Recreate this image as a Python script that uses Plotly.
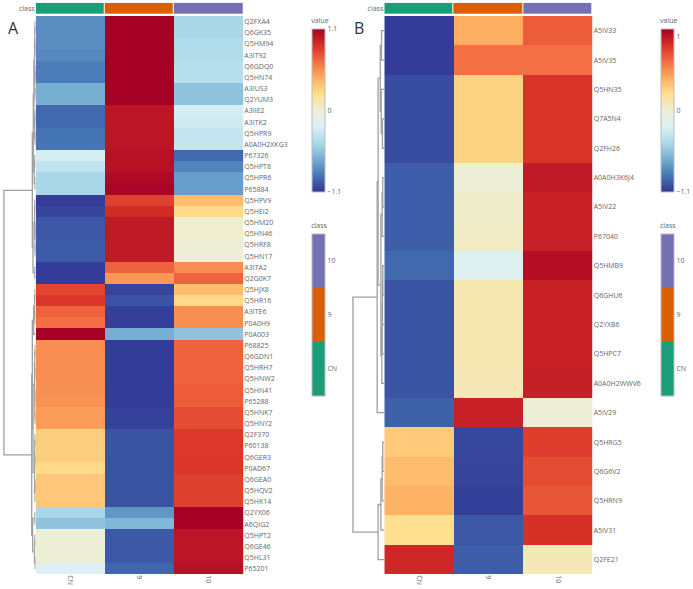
import plotly.graph_objects as go

# ---------------- data ----------------
classes = ["CN", "9", "10"]
class_colors = ["#1b9e77", "#d95f02", "#7570b3"]

A_labels = ["Q2FXA4", "Q6GK35", "Q5HM94", "A3IT92", "Q6GDQ0", "Q5HN74", "A3IUS3", "Q2YUM3",
            "A3IIE2", "A3ITK2", "Q5HPR9", "A0A0H2XKG3", "P67326", "Q5HPT8", "Q5HPR6", "P65884",
            "Q5HPV9", "Q5HEI2", "Q5HM20", "Q5HN46", "Q5HRF8", "Q5HN17", "A3ITA2", "Q2G0K7",
            "Q5HJX8", "Q5HR16", "A3ITE6", "P0A0H9", "P0A003", "P68825", "Q6GDN1", "Q5HRH7",
            "Q5HNW2", "Q5HN41", "P65288", "Q5HNK7", "Q5HNY2", "Q2F370", "P60138", "Q6GER3",
            "P0AD67", "Q6GEA0", "Q5HQV2", "Q5HK14", "Q2YX06", "A6QIG2", "Q5HPT2", "Q6GE46",
            "Q5HL31", "P65201"]
A_CN = [-0.78, -0.78, -0.78, -0.80, -0.85, -0.85, -0.65, -0.65,
        -0.92, -0.92, -0.88, -0.88, -0.25, -0.35, -0.45, -0.45,
        -1.08, -1.05, -0.98, -0.98, -0.97, -0.97, -1.08, -1.08,
        0.80, 0.86, 0.70, 0.66, 1.10, 0.55, 0.55, 0.55,
        0.55, 0.54, 0.53, 0.50, 0.50, 0.30, 0.30, 0.30,
        0.25, 0.33, 0.33, 0.33, -0.45, -0.55, 0.00, 0.00,
        0.00, -0.22]
A_9 = [1.10, 1.10, 1.10, 1.10, 1.10, 1.10, 1.10, 1.10,
       1.00, 1.00, 1.00, 1.00, 1.02, 1.02, 1.05, 1.08,
       0.82, 0.90, 0.98, 0.98, 0.98, 0.98, 0.70, 0.52,
       -1.05, -1.00, -1.07, -1.07, -0.65, -1.08, -1.08, -1.08,
       -1.08, -1.08, -1.08, -1.06, -1.06, -1.00, -1.00, -1.00,
       -1.00, -1.00, -1.00, -1.00, -0.75, -0.60, -0.98, -0.98,
       -0.98, -0.93]
A_10 = [-0.45, -0.45, -0.42, -0.42, -0.38, -0.38, -0.55, -0.55,
        -0.25, -0.28, -0.33, -0.33, -0.92, -0.82, -0.72, -0.72,
        0.38, 0.25, 0.02, 0.02, 0.00, 0.00, 0.55, 0.70,
        0.38, 0.25, 0.55, 0.55, -0.55, 0.70, 0.70, 0.70,
        0.70, 0.72, 0.72, 0.78, 0.78, 0.85, 0.85, 0.85,
        0.86, 0.82, 0.82, 0.82, 1.10, 1.10, 1.00, 1.00,
        1.00, 1.02]

B_labels = ["A5IV33", "A5IV35", "Q5HN35", "Q7A5N4", "Q2FH26", "A0A0H3K6J4", "A5IV22", "P67040",
            "Q5HMB9", "Q6GHU6", "Q2YXB6", "Q5HPC7", "A0A0H2WWV6", "A5IV29", "Q5HRG5", "Q6G6V2",
            "Q5HRN9", "A5IV31", "Q2FE21"]
B_CN = [-1.08, -1.08, -1.02, -1.02, -1.02, -0.96, -0.96, -0.96,
        -0.92, -1.00, -1.00, -1.00, -1.00, -0.95, 0.32, 0.38,
        0.42, 0.22, 0.92]
B_9 = [0.44, 0.65, 0.28, 0.28, 0.28, 0.00, 0.03, 0.05,
       -0.20, 0.12, 0.12, 0.12, 0.10, 0.95, -1.04, -1.05,
       -1.07, -0.98, -0.96]
B_10 = [0.72, 0.65, 0.87, 0.87, 0.87, 0.98, 0.95, 0.95,
        1.03, 0.95, 0.95, 0.95, 0.96, 0.00, 0.83, 0.78,
        0.74, 0.88, 0.10]


def N(h, a, b):
    return (h, a, b)


# dendrogram trees (merge height, left, right); leaves are row indices
A_tree = N(1.0,
           N(0.10,
             N(0.07,
               N(0.05,
                 N(0.03, N(0.02, N(0.01, 0, 1), N(0.01, 2, 3)), N(0.015, N(0.01, 4, 5), N(0.01, 6, 7))),
                 N(0.025, N(0.01, 8, 9), N(0.01, 10, 11))),
               N(0.04, N(0.02, 12, 13), N(0.015, 14, 15))),
             N(0.08,
               N(0.03, N(0.02, 16, 17), N(0.015, N(0.01, 18, 19), N(0.01, 20, 21))),
               N(0.02, 22, 23))),
           N(0.12,
             N(0.10,
               N(0.06, N(0.03, N(0.015, 24, 25), N(0.015, 26, 27)), 28),
               N(0.08,
                 N(0.03, N(0.02, N(0.01, 29, 30), N(0.01, 31, 32)), N(0.02, N(0.01, 33, 34), N(0.01, 35, 36))),
                 N(0.03, N(0.02, N(0.01, 37, 38), N(0.01, 39, 40)), N(0.015, N(0.01, 41, 42), 43)))),
             N(0.09, N(0.02, 44, 45), N(0.03, N(0.015, 46, 47), N(0.01, 48, 49)))))

B_tree = N(1.0,
           N(0.22,
             N(0.19,
               N(0.12, N(0.08, 0, 1), N(0.09, 2, N(0.05, 3, 4))),
               N(0.10, N(0.06, N(0.04, 5, 6), 7),
                 N(0.07, N(0.06, N(0.05, N(0.04, 8, 9), 10), 11), 12))),
             13),
           N(0.19, N(0.10, N(0.06, N(0.04, 14, 15), 16), 17), 18))


def dendro_lines(node, xs, ys):
    """returns (height, y position) of node and appends line segments"""
    if isinstance(node, int):
        return 0.0, float(node)
    h, a, b = node
    ha, ya = dendro_lines(a, xs, ys)
    hb, yb = dendro_lines(b, xs, ys)
    xs += [ha, h, h, hb, None]
    ys += [ya, ya, yb, yb, None]
    return h, (ya + yb) / 2


W, H = 693, 589


def px_x(p):
    return p / W


def px_y(p):
    return 1 - p / H


colorscale = [[0.0, "#313695"], [0.1, "#4575b4"], [0.2, "#74add1"], [0.3, "#abd9e9"],
              [0.4, "#dcf0f5"], [0.5, "#edeed6"], [0.6, "#fee090"], [0.7, "#fdae61"],
              [0.8, "#f46d43"], [0.9, "#d73027"], [1.0, "#a50026"]]
class_scale = [[0, class_colors[0]], [1 / 3, class_colors[0]], [1 / 3, class_colors[1]],
               [2 / 3, class_colors[1]], [2 / 3, class_colors[2]], [1, class_colors[2]]]

FONT = "Open Sans"
small = dict(family=FONT, size=7, color="#666")

fig = go.Figure()
layout = dict(width=W, height=H, margin=dict(l=0, r=0, t=0, b=0),
              paper_bgcolor="white", plot_bgcolor="white", showlegend=False,
              font=dict(family=FONT, size=7, color="#666"))

panels = [
    dict(labels=A_labels, cols=(A_CN, A_9, A_10), tree=A_tree,
         heat=(35.7, 243.3), dend=(3, 35.5), cb=311.7, top_text="1.1", top_val=1.1,
         ax=("x", "y", "x2", "y2"), letter="A", lx=6),
    dict(labels=B_labels, cols=(B_CN, B_9, B_10), tree=B_tree,
         heat=(384.3, 592.7), dend=(352, 384), cb=660.5, top_text="1", top_val=1.0,
         ax=("x3", "y3", "x4", "y4"), letter="B", lx=352),
]

heat_top, heat_bot = 16, 574.3
for p in panels:
    xh, yh, xd, yc = p["ax"]
    n = len(p["labels"])
    z = [[p["cols"][0][i], p["cols"][1][i], p["cols"][2][i]] for i in range(n)]
    fig.add_trace(go.Heatmap(
        z=z, x=[0, 1, 2], y=list(range(n)), xaxis=xh, yaxis=yh,
        colorscale=colorscale, zmin=-1.1, zmax=1.1,
        colorbar=dict(x=px_x(p["cb"]), xanchor="left", xpad=0, y=px_y(15), yanchor="top", ypad=0,
                      len=177 / H, lenmode="fraction", thickness=13, thicknessmode="pixels",
                      outlinewidth=1, outlinecolor="#bbb",
                      title=dict(text="value", side="top", font=small),
                      tickvals=[-1.1, 0, p["top_val"]], ticktext=["\u22121.1", "0", p["top_text"]],
                      ticks="", tickfont=small)))
    # class side bar
    fig.add_trace(go.Heatmap(
        z=[[0, 1, 2]], x=[0, 1, 2], y=[0], xaxis=xh, yaxis=yc,
        colorscale=class_scale, zmin=-0.5, zmax=2.5, xgap=1,
        colorbar=dict(x=px_x(p["cb"]), xanchor="left", xpad=0, y=px_y(220), yanchor="top", ypad=0,
                      len=176 / H, lenmode="fraction", thickness=13, thicknessmode="pixels",
                      outlinewidth=1, outlinecolor="#bbb",
                      title=dict(text="class", side="top", font=small),
                      tickvals=[0, 1, 2], ticktext=classes, ticks="", tickfont=small)))
    xs, ys = [], []
    dendro_lines(p["tree"], xs, ys)
    fig.add_trace(go.Scatter(x=xs, y=ys, xaxis=xd, yaxis=yh, mode="lines",
                             line=dict(color="#a0a0a0", width=1.3), hoverinfo="skip"))

    xn, yn = xh[1:] or "", yh[1:] or ""
    xdn, ycn = xd[1:], yc[1:]
    layout["xaxis" + xn] = dict(domain=[px_x(p["heat"][0]), px_x(p["heat"][1])], anchor=yh,
                                range=[-0.5, 2.5], tickvals=[0, 1, 2], ticktext=classes,
                                tickangle=90, showgrid=False, zeroline=False, showline=False,
                                ticks="", tickfont=small)
    layout["yaxis" + yn] = dict(domain=[px_y(heat_bot), px_y(heat_top)], anchor=xh,
                                range=[n - 0.5, -0.5], tickvals=list(range(n)), ticktext=p["labels"],
                                side="right", showgrid=False, zeroline=False, showline=False,
                                ticks="", tickfont=small)
    layout["xaxis" + xdn] = dict(domain=[px_x(p["dend"][0]), px_x(p["dend"][1])], anchor=yh,
                                 range=[1.03, 0], showgrid=False, zeroline=False,
                                 showticklabels=False, showline=False, ticks="")
    layout["yaxis" + ycn] = dict(domain=[px_y(14), px_y(2.7)], anchor=xh, range=[-0.5, 0.5],
                                 tickvals=[0], ticktext=["class"], side="left",
                                 showgrid=False, zeroline=False, showline=False, ticks="",
                                 tickfont=small)

fig.update_layout(**layout)

for p in panels:
    fig.add_annotation(text=p["letter"], x=px_x(p["lx"]), y=px_y(28), xref="paper", yref="paper",
                       xanchor="left", yanchor="middle", showarrow=False,
                       font=dict(family=FONT, size=16, color="#333"))

fig.write_html("out.html")
